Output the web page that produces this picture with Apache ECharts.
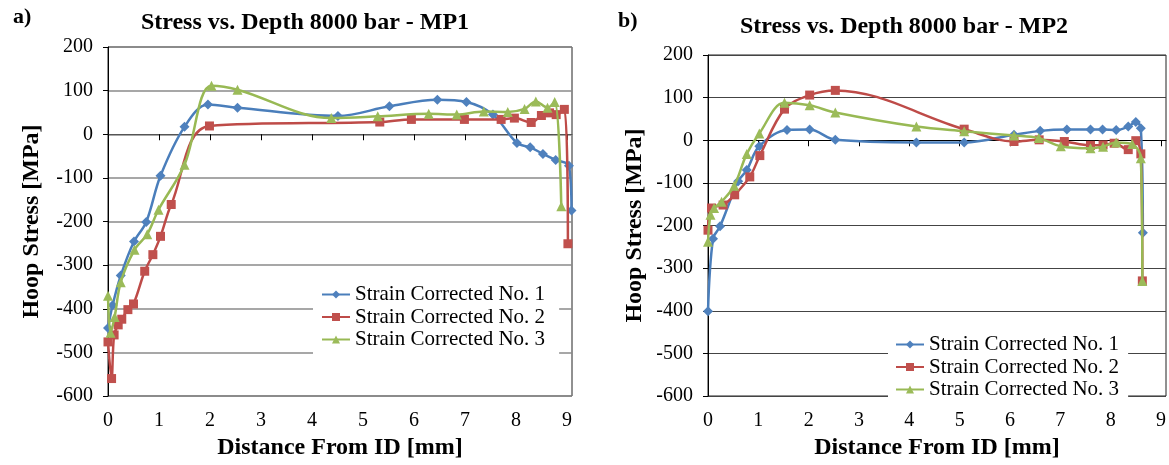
<!DOCTYPE html>
<html><head><meta charset="utf-8">
<script src="https://cdn.jsdelivr.net/npm/echarts@6/dist/echarts.min.js"></script>
<style>html,body{margin:0;padding:0;background:#fff}#c{width:1169px;height:465px}</style>
</head><body><div id="c"></div>
<script>
// ---- data ----
const seriesNames = ['Strain Corrected No. 1', 'Strain Corrected No. 2', 'Strain Corrected No. 3'];
const chartTitles = ['Stress vs. Depth 8000 bar - MP1', 'Stress vs. Depth 8000 bar - MP2'];
const panelLabels = ['a)', 'b)'];
const xAxisTitle = 'Distance From ID [mm]';
const yAxisTitle = 'Hoop Stress [MPa]';
const xTicks = [0, 1, 2, 3, 4, 5, 6, 7, 8, 9];
const yTicks = [-600, -500, -400, -300, -200, -100, 0, 100, 200];

// MP1  [distance mm, hoop stress MPa]
const mp1No1 = [[0,-444],[0.09,-392],[0.25,-324],[0.51,-246],[0.75,-201],[1.03,-95],[1.5,17],[1.96,68],[2.54,61],[4.51,42],[5.52,64],[6.46,79],[7.03,74],[7.55,45],[8.02,-20],[8.28,-30],[8.53,-45],[8.78,-59],[9.04,-72],[9.09,-175]];
const mp1No2 = [[0,-476],[0.07,-560],[0.12,-460],[0.2,-437],[0.27,-424],[0.39,-402],[0.5,-389],[0.72,-314],[0.88,-276],[1.03,-234],[1.24,-161],[1.99,19],[5.33,28],[5.95,34],[6.99,34],[7.71,34],[7.97,37],[8.3,27],[8.5,43],[8.66,49],[8.79,45],[8.95,57],[9.02,-251]];
const mp1No3 = [[0,-370],[0.05,-455],[0.13,-419],[0.25,-339],[0.52,-265],[0.77,-229],[0.99,-173],[1.5,-70],[2.03,111],[2.54,102],[4.38,37],[5.29,41],[6.29,47],[6.84,45],[7.37,52],[7.84,51],[8.17,58],[8.39,75],[8.62,61],[8.76,74],[8.89,-165]];
// MP2
const mp2No1 = [[0,-401],[0.1,-231],[0.24,-202],[0.6,-96],[0.77,-70],[1.02,-14],[1.57,24],[2.02,25],[2.53,1],[4.14,-5],[5.09,-5],[6.08,13],[6.6,22],[7.13,25],[7.6,25],[7.84,25],[8.11,24],[8.35,32],[8.5,43],[8.6,28],[8.64,-217]];
const mp2No2 = [[0,-211],[0.07,-159],[0.3,-152],[0.53,-128],[0.83,-86],[1.03,-36],[1.52,73],[2.02,106],[2.53,117],[5.09,26],[6.08,-3],[6.58,1],[7.08,-3],[7.6,-12],[7.85,-11],[8.07,-7],[8.35,-22],[8.5,-1],[8.6,-32],[8.63,-330]];
const mp2No3 = [[0,-238],[0.05,-175],[0.12,-159],[0.27,-144],[0.52,-107],[0.77,-32],[1.02,16],[1.52,88],[2.02,82],[2.53,65],[4.14,32],[5.09,21],[6.08,11],[6.57,5],[7.01,-14],[7.6,-19],[7.85,-15],[8.11,-5],[8.43,-9],[8.6,-42],[8.63,-330]];

// ---- style ----
const FONT = 'Liberation Serif';
const lineColors = ['#4A7EBB', '#BE4B48', '#98B954'];
const markColors = ['#4F81BD', '#C0504D', '#9BBB59'];
const symbols = ['diamond', 'rect', 'triangle'];
const symSizes = [10, 9, 10];
const X_MAX = 9.1;

const grids = [
  {left: 108, top: 47, width: 464, height: 352, gridColor: '#8a8a8a', gridWidth: 1.5},
  {left: 708, top: 55, width: 458, height: 345, gridColor: '#444', gridWidth: 1}
];

const option = {
  animation: false,
  backgroundColor: '#fff',
  grid: grids.map(g => ({left: g.left, top: g.top, width: g.width, height: g.height, show: true, borderColor: '#222', borderWidth: 1, backgroundColor: '#fff'})),
  xAxis: [],
  yAxis: [],
  series: [],
  legend: [],
  graphic: []
};

grids.forEach((g, gi) => {
  option.xAxis.push({
    type: 'value', gridIndex: gi, min: 0, max: X_MAX, interval: 1, position: 'bottom',
    name: xAxisTitle, nameLocation: 'middle', nameGap: 40,
    nameTextStyle: {fontFamily: FONT, fontWeight: 'bold', fontSize: 24, color: '#000'},
    axisLine: {show: false, onZero: false}, axisTick: {show: false},
    axisLabel: {customValues: xTicks, fontFamily: FONT, fontSize: 20, color: '#000', margin: 15,
      formatter: v => (Number.isInteger(v) ? String(v) : '')},
    splitLine: {show: false}
  });
  option.xAxis.push({
    type: 'value', gridIndex: gi, min: 0, max: X_MAX, interval: 1, position: 'top',
    axisLine: {show: true, onZero: true, lineStyle: {color: gi === 0 ? '#555' : '#000', width: 1}},
    axisTick: {show: true, inside: true, length: 6, customValues: xTicks, lineStyle: {color: '#000', width: 1}},
    axisLabel: {show: false}, splitLine: {show: false}
  });
  option.yAxis.push({
    type: 'value', gridIndex: gi, min: -600, max: 200, interval: 100,
    name: yAxisTitle, nameLocation: 'middle', nameGap: gi === 0 ? 64 : 61,
    nameTextStyle: {fontFamily: FONT, fontWeight: 'bold', fontSize: 24, color: '#000'},
    axisLine: {show: true, onZero: false, lineStyle: {color: '#000', width: 1}},
    axisTick: {show: true, length: 5, lineStyle: {color: '#000'}},
    axisLabel: {customValues: yTicks, fontFamily: FONT, fontSize: 20, color: '#000', margin: 15},
    splitLine: {show: true, lineStyle: {color: g.gridColor, width: g.gridWidth}}
  });
});

const datasets = [[mp1No1, mp1No2, mp1No3], [mp2No1, mp2No2, mp2No3]];
datasets.forEach((set, gi) => {
  set.forEach((d, si) => {
    option.series.push({
      type: 'line', name: seriesNames[si], data: d,
      xAxisIndex: gi * 2, yAxisIndex: gi,
      smooth: 0.35, smoothConstraint: false, showAllSymbol: true,
      symbol: symbols[si], symbolSize: symSizes[si],
      lineStyle: {color: lineColors[si], width: 2.5},
      itemStyle: {color: markColors[si]},
      z: 3 + si
    });
  });
});

const legendPos = [{left: 313, top: 280}, {left: 888, top: 330}];
legendPos.forEach((p, i) => {
  option.legend.push({
    left: p.left, top: p.top, orient: 'vertical', backgroundColor: '#fff',
    padding: i === 0 ? [4, 14, 4, 8] : [4, 9, 0, 7],
    itemGap: 1.5, itemWidth: 28, itemHeight: 10, itemTextGap: 3,
    textStyle: {fontFamily: FONT, fontSize: 21, color: '#000'},
    data: seriesNames, selectedMode: false
  });
});

const titlePos = [{x: 305, y: 23}, {x: 904, y: 27}];
const labelPos = [{x: 13, y: 17}, {x: 618, y: 21}];
titlePos.forEach((p, i) => {
  option.graphic.push({type: 'text', x: p.x, y: p.y, style: {text: chartTitles[i], fontFamily: FONT, fontWeight: 'bold', fontSize: 24, fill: '#000', textAlign: 'center', textVerticalAlign: 'middle'}});
  option.graphic.push({type: 'text', x: labelPos[i].x, y: labelPos[i].y, style: {text: panelLabels[i], fontFamily: FONT, fontWeight: 'bold', fontSize: 22, fill: '#000', textAlign: 'left', textVerticalAlign: 'middle'}});
});

const chart = echarts.init(document.getElementById('c'), null, {renderer: 'canvas'});
chart.setOption(option);
</script>
</body></html>
